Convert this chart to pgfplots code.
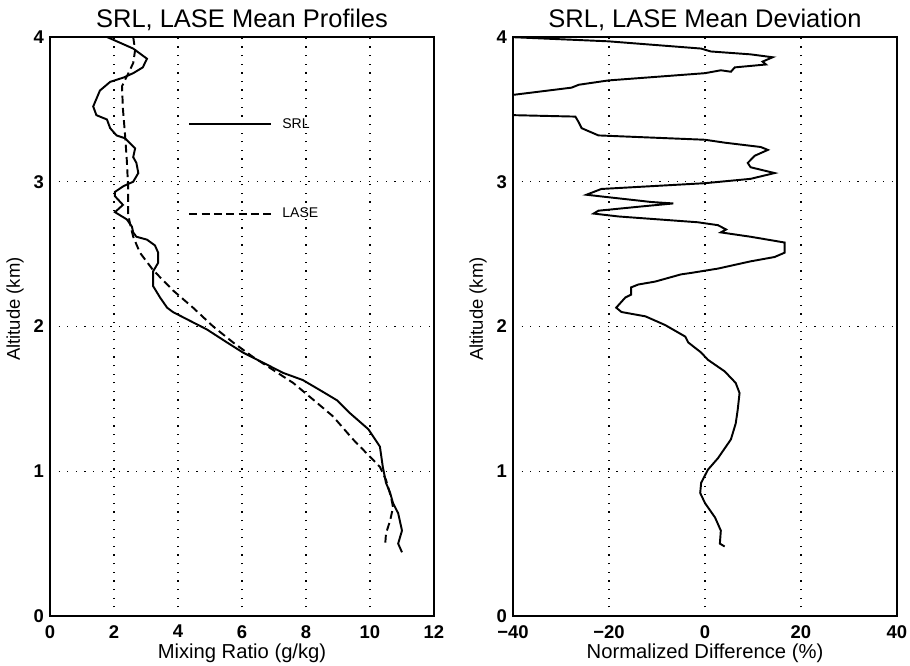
\documentclass[border=0pt]{standalone}
\usepackage{pgfplots}
\pgfplotsset{compat=1.18}
\usepackage{fontspec}
\setmainfont{Liberation Sans}

\pgfplotsset{
  panel/.style={
    width=7.68cm, height=11.58cm, scale only axis,
    ymin=0, ymax=4, ytick={0,1,2,3,4}, yticklabels={0,1,2,3,4},
    major tick length=0pt,
    grid=major,
    grid style={black, line width=0.7pt, dash pattern=on 0.7pt off 4.2pt},
    axis line style={line width=0.9pt},
    tick label style={font=\bfseries\fontsize{10.5}{12}\selectfont},
    xticklabel style={yshift=-0.06cm},
    every axis title/.style={at={(axis description cs:0.5,1)}, anchor=center,
      yshift=0.34cm, font=\fontsize{14.5}{16}\selectfont},
    every axis x label/.style={at={(axis description cs:0.5,0)}, anchor=center,
      yshift=-0.74cm, font=\fontsize{11.5}{13}\selectfont},
    every axis y label/.style={at={(axis description cs:-0.091,0.53)}, anchor=center,
      rotate=90, font=\fontsize{10.5}{12}\selectfont},
    ylabel={Altitude (km)},
  }
}

\begin{document}
\begin{tikzpicture}
\path[use as bounding box] (-1.0,-1.0) rectangle (17.2,12.32);

\begin{axis}[panel,
  at={(0,0)}, anchor=south west,
  xmin=0, xmax=12, xtick={0,2,4,6,8,10,12}, xticklabels={0,2,4,6,8,10,12},
  title={SRL, LASE Mean Profiles},
  xlabel={Mixing Ratio (g/kg)},
  legend style={draw=none, fill=none, at={(axis cs:4.15,3.49)}, anchor=north west,
    row sep=1.4cm, font=\fontsize{8}{9}\selectfont, legend cell align=left,
    nodes={inner xsep=0.2cm}},
  legend image code/.code={\draw[#1] (0cm,0cm) -- (1.64cm,0cm);},
]
\addplot[black, line width=1.1pt] table {
1.78 4.00
2.60 3.92
3.03 3.85
2.90 3.79
2.60 3.75
2.30 3.72
1.88 3.69
1.56 3.63
1.35 3.52
1.45 3.46
1.78 3.43
1.88 3.37
2.08 3.32
2.35 3.30
2.66 3.23
2.60 3.17
2.70 3.13
2.76 3.06
2.60 3.00
2.30 2.97
2.03 2.93
2.03 2.90
2.28 2.84
2.03 2.79
2.40 2.74
2.56 2.69
2.60 2.65
2.70 2.62
3.03 2.60
3.28 2.56
3.38 2.51
3.38 2.44
3.22 2.38
3.22 2.28
3.44 2.20
3.66 2.13
3.84 2.10
4.28 2.05
4.90 1.98
5.53 1.89
6.03 1.82
6.66 1.75
7.28 1.68
7.90 1.63
8.44 1.56
8.97 1.49
9.38 1.40
9.95 1.29
10.31 1.17
10.40 1.03
10.50 0.92
10.63 0.85
10.72 0.78
10.88 0.71
11.00 0.59
10.88 0.50
11.00 0.44
};
\addlegendentry{SRL}
\addplot[black, line width=1.1pt, dash pattern=on 4.5pt off 2.5pt] table {
2.60 4.00
2.66 3.91
2.60 3.82
2.45 3.75
2.25 3.66
2.28 3.50
2.34 3.34
2.40 3.15
2.44 2.97
2.44 2.78
2.50 2.71
2.60 2.62
2.81 2.51
3.22 2.39
3.84 2.25
4.47 2.13
5.10 2.00
5.72 1.89
6.34 1.79
6.97 1.70
7.60 1.61
8.25 1.49
8.84 1.38
9.47 1.22
10.00 1.10
10.31 1.03
10.50 0.94
10.66 0.82
10.72 0.75
10.63 0.66
10.50 0.57
10.47 0.48
};
\addlegendentry{LASE}
\end{axis}

\begin{axis}[panel,
  at={(9.26cm,0)}, anchor=south west,
  xmin=-40, xmax=40, xtick={-40,-20,0,20,40}, xticklabels={−40,−20,0,20,40},
  title={SRL, LASE Mean Deviation},
  xlabel={Normalized Difference (\%)},
]
\addplot[black, line width=1.1pt] table {
-41.0 4.00
-20.1 3.97
-0.8 3.92
1.2 3.90
9.5 3.88
14.1 3.86
12.0 3.83
12.7 3.81
6.2 3.79
5.4 3.76
3.3 3.77
0.0 3.75
-20.1 3.70
-26.3 3.67
-27.8 3.65
-40.0 3.60
-60.0 3.53
-40.0 3.46
-27.0 3.45
-26.3 3.41
-25.7 3.37
-22.2 3.32
0.0 3.29
4.1 3.27
11.6 3.24
13.1 3.22
10.4 3.18
8.9 3.13
9.5 3.10
14.5 3.06
9.5 3.02
0.0 2.99
-21.6 2.95
-24.7 2.91
-11.2 2.86
-6.6 2.85
-13.0 2.83
-22.2 2.80
-23.2 2.78
-18.0 2.76
-1.5 2.72
2.7 2.70
4.4 2.67
3.3 2.65
9.5 2.62
16.6 2.58
16.6 2.51
14.5 2.48
9.5 2.45
2.7 2.40
-2.9 2.37
-5.0 2.36
-10.4 2.31
-13.9 2.29
-15.4 2.27
-15.4 2.22
-16.6 2.20
-18.5 2.13
-17.4 2.10
-12.4 2.07
-8.3 2.01
-4.1 1.93
-3.5 1.89
-0.8 1.82
0.6 1.77
4.1 1.69
6.4 1.61
7.2 1.54
6.8 1.42
6.4 1.33
5.4 1.22
2.7 1.09
0.6 1.01
-0.8 0.92
-1.0 0.85
0.0 0.78
2.1 0.68
3.3 0.59
3.1 0.50
4.1 0.48
};
\end{axis}
\end{tikzpicture}
\end{document}
